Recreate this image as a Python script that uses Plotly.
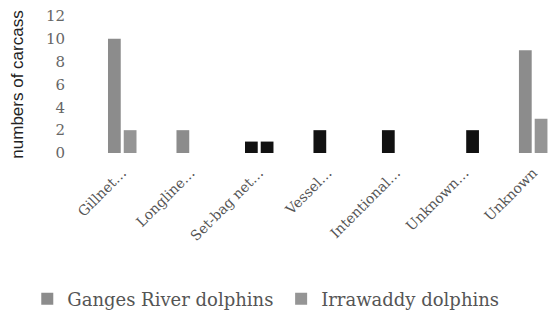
import plotly.graph_objects as go

categories = ["Gillnet…", "Longline…", "Set-bag net…", "Vessel…", "Intentional…", "Unknown…", "Unknown"]
ganges = [10, 2, 1, 2, 2, 0, 9]
irrawaddy = [2, 0, 1, 0, 0, 2, 3]
y_ticks = [0, 2, 4, 6, 8, 10, 12]

gray1 = "#8c8c8c"
gray2 = "#959595"
dark = "#111111"
ganges_colors = [gray1, gray1, dark, dark, dark, dark, gray1]
irr_colors = [gray2, gray2, dark, dark, dark, dark, gray2]

serif = "DejaVu Serif, Liberation Serif, serif"
legend_style = dict(orientation="h", xanchor="left", xref="container", yref="container",
                    y=0.036, yanchor="middle", itemwidth=30,
                    font=dict(size=18, color="#555555", family=serif))

fig = go.Figure()
fig.add_trace(go.Bar(x=categories, y=ganges, name="Ganges River dolphins", legend="legend",
                     marker=dict(color=ganges_colors, line=dict(width=0))))
fig.add_trace(go.Bar(x=categories, y=irrawaddy, name="Irrawaddy dolphins", legend="legend2",
                     marker=dict(color=irr_colors, line=dict(width=0))))

fig.update_layout(
    template="none",
    width=543, height=302,
    margin=dict(l=80, r=0, t=8, b=157, autoexpand=False),
    paper_bgcolor="white", plot_bgcolor="white",
    barmode="group", bargap=0.54, bargroupgap=0.19,
    font=dict(family=serif, color="#444444"),
    showlegend=True,
    legend=dict(x=0.0355, **legend_style),
    legend2=dict(x=0.503, **legend_style),
    xaxis=dict(range=[-0.5, 6.26], tickangle=-45, showgrid=False, showline=False,
               zeroline=False, ticks="", automargin=False, ticklabelstandoff=8,
               tickfont=dict(size=14, color="#555555")),
    yaxis=dict(range=[0, 12], tickvals=y_ticks, showgrid=False, showline=False,
               zeroline=False, ticks="", automargin=False, ticklabeloverflow="allow",
               tickfont=dict(size=15, color="#666666"),
               ticklabelstandoff=22,
               title=dict(text="numbers of carcass", standoff=25,
                          font=dict(size=17, color="#222222", family="Liberation Sans, Arial, sans-serif"))),
)

fig.write_html("out.html")
